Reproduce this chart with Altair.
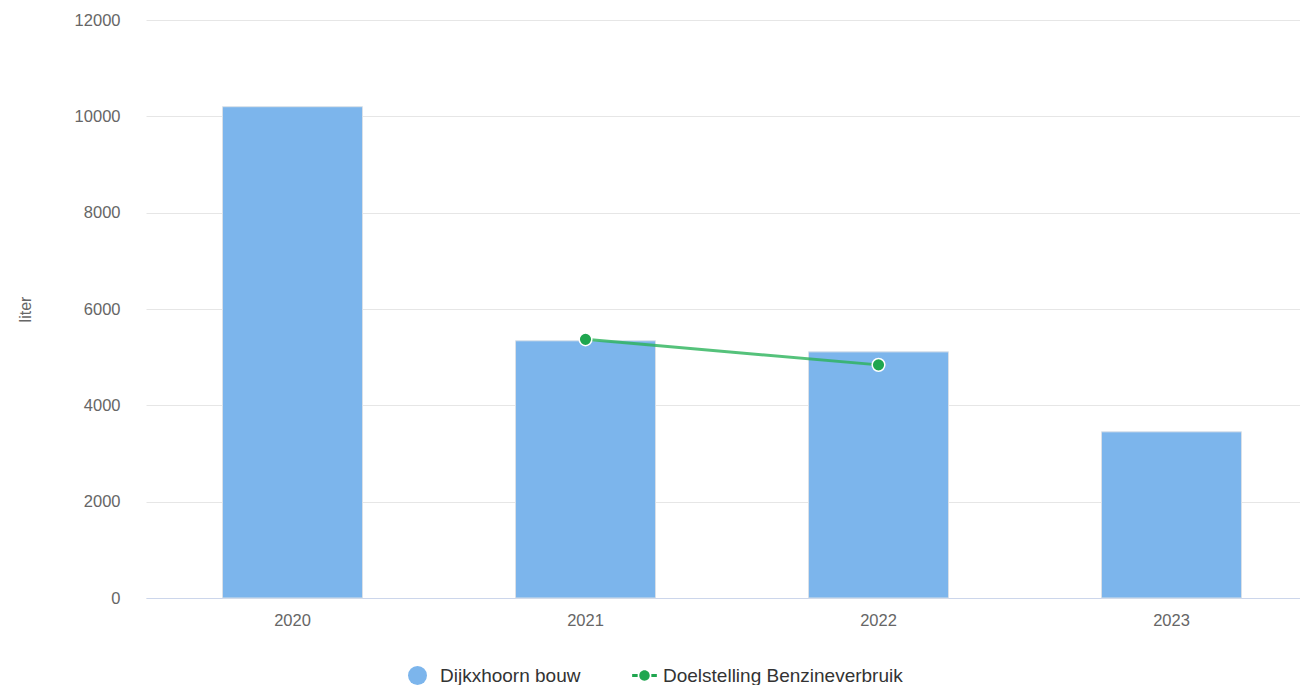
import altair as alt
import pandas as pd

years = ["2020", "2021", "2022", "2023"]
usage = [10200, 5340, 5110, 3450]
target_years = ["2021", "2022"]
target = [5370, 4840]
bar_series = "Dijkxhoorn bouw"
line_series = "Doelstelling Benzineverbruik"
y_ticks = [0, 2000, 4000, 6000, 8000, 10000, 12000]

bars_df = pd.DataFrame({"year": years, "value": usage, "series": bar_series})
line_df = pd.DataFrame({"year": target_years, "value": target, "series": line_series})

FONT = "Liberation Sans"
BLUE = "#7cb5ec"
GREEN = "#2bb35a"
POINT = "#1fa64f"

xscale = alt.Scale(domain=years, paddingInner=0.5222, paddingOuter=0.2304, align=0.5667)
yscale = alt.Scale(domain=[0, 12000], nice=False)

x = alt.X("year:N", scale=xscale, axis=alt.Axis(
    title=None, labelAngle=0, ticks=False, grid=False,
    domainColor="#ccd6eb", domainWidth=1,
    labelColor="#666666", labelFontSize=16.5, labelPadding=14, labelFont=FONT))
y = alt.Y("value:Q", scale=yscale, axis=alt.Axis(
    values=y_ticks, format="d", title="liter", grid=True, gridColor="#e6e6e6",
    domain=False, ticks=False, labelPadding=26, labelColor="#666666",
    labelFontSize=16.5, labelFont=FONT,
    titleAngle=270, titleX=-121, titleY=289, titleAlign="center",
    titleBaseline="middle", titleFontWeight="normal", titleColor="#666666",
    titleFontSize=16, titleFont=FONT))

line_symbol = ("M-1.3,-0.15L-0.72,-0.15L-0.72,0.15L-1.3,0.15Z "
               "M0.72,-0.15L1.3,-0.15L1.3,0.15L0.72,0.15Z "
               "M-0.55,0A0.55,0.55,0,1,0,0.55,0A0.55,0.55,0,1,0,-0.55,0Z")

bars = alt.Chart(bars_df).mark_bar(stroke="#d9e0e8", strokeWidth=1).encode(
    x=x, y=y,
    color=alt.Color("series:N", scale=alt.Scale(domain=[bar_series], range=[BLUE]),
                    legend=alt.Legend(title=None, orient="none", legendX=262, legendY=646,
                                      symbolType="circle", symbolSize=361, symbolStrokeWidth=0,
                                      labelOffset=13, labelFontSize=19, labelColor="#333333",
                                      labelFont=FONT, labelLimit=0, padding=0)),
)

line = alt.Chart(line_df).mark_line(strokeWidth=3, opacity=0.8).encode(
    x=x, y=y,
    stroke=alt.Stroke("series:N", scale=alt.Scale(domain=[line_series], range=[GREEN]),
                      legend=alt.Legend(title=None, orient="none", legendX=489, legendY=646,
                                        symbolType=line_symbol, symbolSize=361,
                                        symbolFillColor=POINT, symbolStrokeWidth=0,
                                        symbolOpacity=1,
                                        labelOffset=9, labelFontSize=19, labelColor="#333333",
                                        labelFont=FONT, labelLimit=0, padding=0)),
)

points = alt.Chart(line_df).mark_point(filled=True, size=160, fill=POINT, stroke="white",
                                       strokeWidth=1.5, opacity=1, shape="circle").encode(
    x=x, y=y)

chart = alt.layer(bars, line, points).resolve_scale(color="independent").properties(
    width=1154, height=578,
    autosize=alt.AutoSizeParams(type="none"),
    padding={"left": 138, "top": 12, "right": 0, "bottom": 87},
).configure(font=FONT).configure_view(stroke="transparent", strokeWidth=0)

chart.save("out.html", embed_options={"renderer": "svg", "actions": False})
